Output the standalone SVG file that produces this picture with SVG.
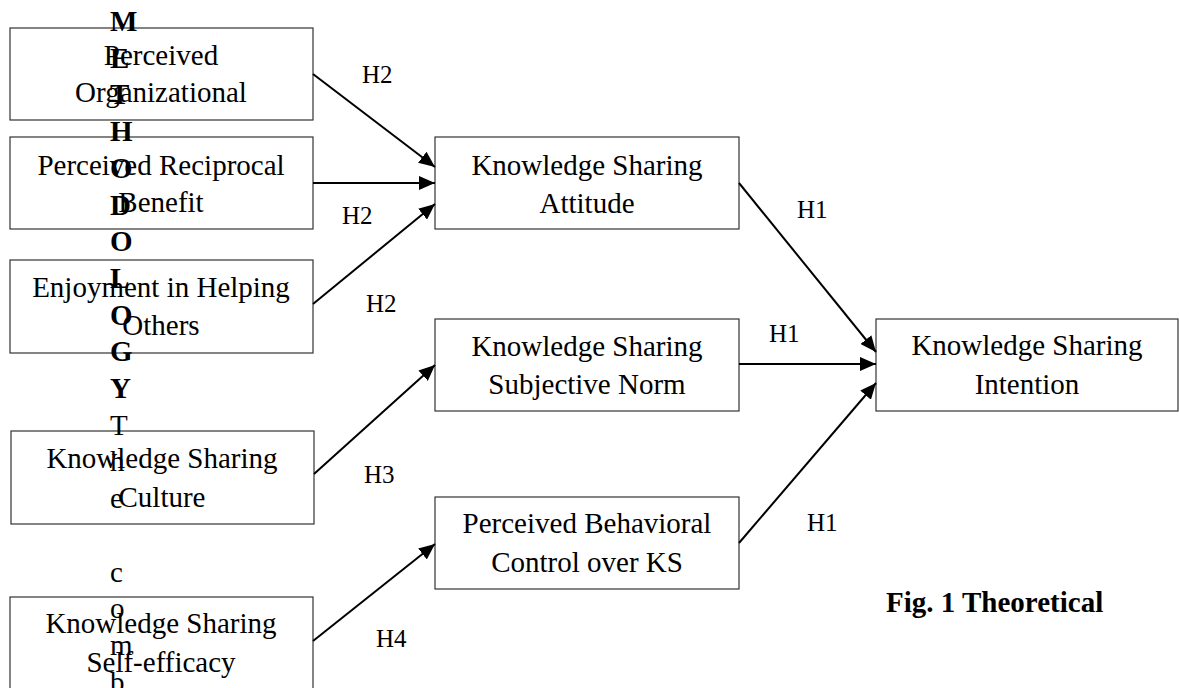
<svg xmlns="http://www.w3.org/2000/svg" width="1179" height="688" viewBox="0 0 1179 688">
<style>
.box{fill:#fff;stroke:#333;stroke-width:1.2}
.t{font-family:"Liberation Serif","Times New Roman",serif;font-size:29px;fill:#000;text-anchor:middle}
.lab{font-family:"Liberation Serif","Times New Roman",serif;font-size:25px;fill:#000}
.v{font-family:"Liberation Serif","Times New Roman",serif;font-size:29px;fill:#000}
.vb{font-weight:bold}
.fig{font-family:"Liberation Serif","Times New Roman",serif;font-size:29px;font-weight:bold;fill:#000}
.c{stroke:#000;stroke-width:2;fill:none;marker-end:url(#ah)}
</style>
<defs>
<marker id="ah" markerUnits="userSpaceOnUse" markerWidth="16" markerHeight="14" refX="16" refY="7" orient="auto">
<path d="M0,0 L16,7 L0,14 z" fill="#000"/>
</marker>
</defs>
<rect width="1179" height="688" fill="#fff"/>
<g id="n-org">
<rect class="box" x="10" y="28" width="303" height="92"/>
<text class="t" x="161" y="65">Perceived</text>
<text class="t" x="161" y="102">Organizational</text>
</g>
<g id="n-recip">
<rect class="box" x="10" y="137" width="303" height="92"/>
<text class="t" x="161" y="175">Perceived Reciprocal</text>
<text class="t" x="161" y="212">Benefit</text>
</g>
<g id="n-enjoy">
<rect class="box" x="10" y="260" width="303" height="93"/>
<text class="t" x="161" y="297">Enjoyment in Helping</text>
<text class="t" x="161" y="335">Others</text>
</g>
<g id="n-culture">
<rect class="box" x="11" y="431" width="303" height="93"/>
<text class="t" x="162" y="468">Knowledge Sharing</text>
<text class="t" x="162" y="507">Culture</text>
</g>
<g id="n-selfeff">
<rect class="box" x="10" y="597" width="303" height="93"/>
<text class="t" x="161" y="633">Knowledge Sharing</text>
<text class="t" x="161" y="672">Self-efficacy</text>
</g>
<g id="n-attitude">
<rect class="box" x="435" y="137" width="304" height="92"/>
<text class="t" x="587" y="175">Knowledge Sharing</text>
<text class="t" x="587" y="213">Attitude</text>
</g>
<g id="n-norm">
<rect class="box" x="435" y="319" width="304" height="92"/>
<text class="t" x="587" y="356">Knowledge Sharing</text>
<text class="t" x="587" y="394">Subjective Norm</text>
</g>
<g id="n-pbc">
<rect class="box" x="435" y="497" width="304" height="92"/>
<text class="t" x="587" y="533">Perceived Behavioral</text>
<text class="t" x="587" y="572">Control over KS</text>
</g>
<g id="n-intention">
<rect class="box" x="876" y="319" width="302" height="92"/>
<text class="t" x="1027" y="355">Knowledge Sharing</text>
<text class="t" x="1027" y="394">Intention</text>
</g>
<g id="connectors">
<line class="c" x1="313" y1="74" x2="435" y2="167"/>
<line class="c" x1="313" y1="183" x2="435" y2="183"/>
<line class="c" x1="313" y1="304" x2="435" y2="204"/>
<line class="c" x1="314" y1="474" x2="435" y2="365"/>
<line class="c" x1="313" y1="641" x2="435" y2="544"/>
<line class="c" x1="739" y1="183" x2="876" y2="352"/>
<line class="c" x1="739" y1="364" x2="876" y2="364"/>
<line class="c" x1="739" y1="543" x2="876" y2="383"/>
</g>
<g id="labels">
<text class="lab" x="362" y="83">H2</text>
<text class="lab" x="342" y="224">H2</text>
<text class="lab" x="366" y="312">H2</text>
<text class="lab" x="364" y="483">H3</text>
<text class="lab" x="376" y="647">H4</text>
<text class="lab" x="797" y="218">H1</text>
<text class="lab" x="769" y="342">H1</text>
<text class="lab" x="807" y="531">H1</text>
</g>
<g id="overlay">
<text class="v vb" x="110" y="31">M</text>
<text class="v vb" x="110" y="67.7">E</text>
<text class="v vb" x="110" y="104.4">T</text>
<text class="v vb" x="110" y="141">H</text>
<text class="v vb" x="110" y="177.8">O</text>
<text class="v vb" x="110" y="214.5">D</text>
<text class="v vb" x="110" y="251">O</text>
<text class="v vb" x="110" y="288">L</text>
<text class="v vb" x="110" y="324.6">O</text>
<text class="v vb" x="110" y="361">G</text>
<text class="v vb" x="110" y="398">Y</text>
<text class="v" x="110" y="435">T</text>
<text class="v" x="110" y="471">h</text>
<text class="v" x="110" y="508">e</text>
<text class="v" x="110" y="581.6">c</text>
<text class="v" x="110" y="618">o</text>
<text class="v" x="110" y="655">m</text>
<text class="v" x="110" y="692">b</text>
</g>
<text class="fig" x="886" y="612">Fig. 1 Theoretical</text>
</svg>
